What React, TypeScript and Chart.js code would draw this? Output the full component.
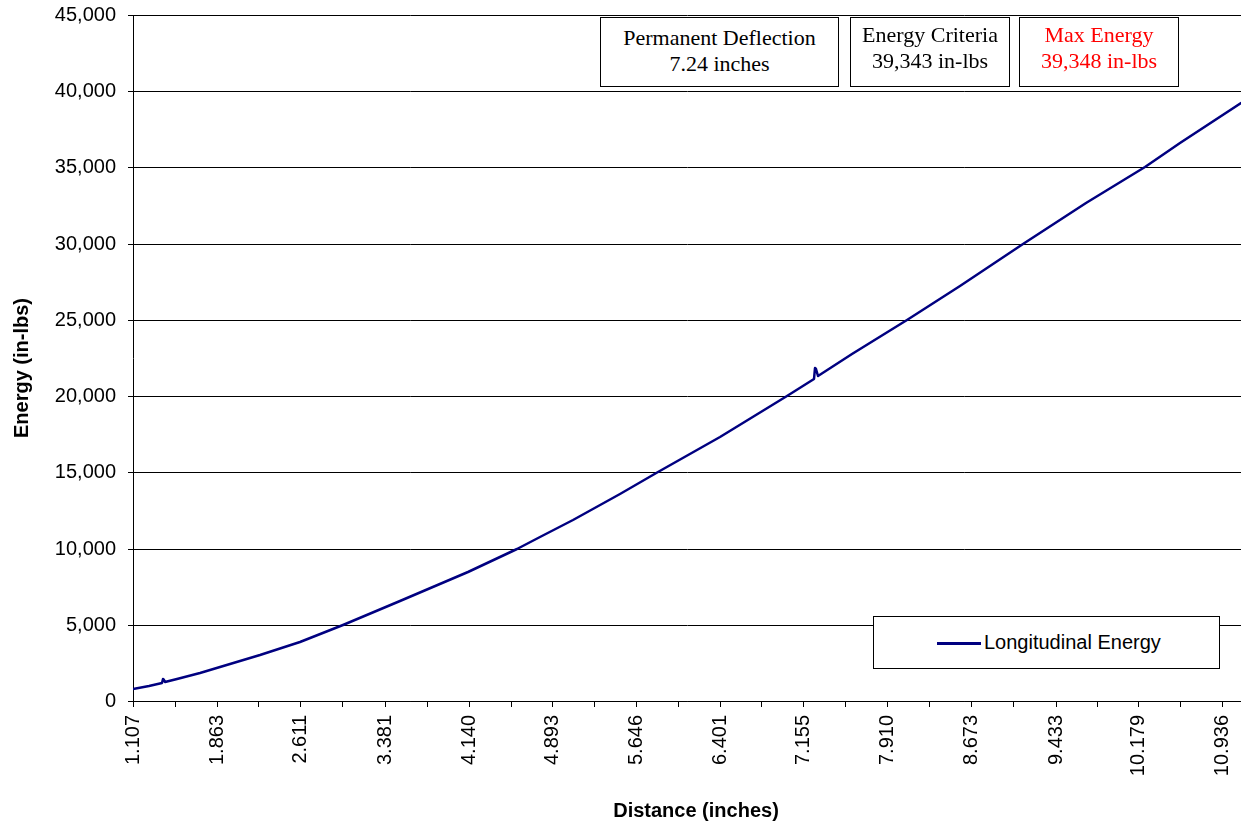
import React, { useEffect, useRef } from "react";
import { Chart, registerables } from "chart.js";

Chart.register(...registerables);

// ---- data ----
const distance = [
  1.107, 1.25, 1.372, 1.38, 1.39, 1.4, 1.5, 1.712, 1.892, 2.25, 2.614, 3.005, 3.517, 4.13, 4.57,
  4.78, 5.078, 5.5, 5.848, 6.405, 7.007, 7.252, 7.262, 7.274, 7.288, 7.6, 8.09, 8.571, 9.139, 9.71,
  10.241, 10.556, 11.107,
];
const energy = [
  770, 976, 1150, 1430, 1400, 1230, 1430, 1820, 2210, 3010, 3890, 5000, 6540, 8440, 10000, 10780,
  11874, 13560, 15000, 17350, 20000, 21150, 21860, 21800, 21300, 22740, 25000, 27220, 30000, 32680,
  35000, 36585, 39209,
];
const tickValues = [
  1.107, 1.863, 2.611, 3.381, 4.14, 4.893, 5.646, 6.401, 7.155, 7.91, 8.673, 9.433, 10.179, 10.936,
];
const tickLabels = [
  "1.107", "1.863", "2.611", "3.381", "4.140", "4.893", "5.646", "6.401", "7.155", "7.910", "8.673",
  "9.433", "10.179", "10.936",
];
const xMin = 1.107;
const xMax = 11.107;
const yMax = 45000;
const yStep = 5000;
const seriesName = "Longitudinal Energy";
const xTitle = "Distance (inches)";
const yTitle = "Energy (in-lbs)";
const infoBoxes = [
  { lines: ["Permanent Deflection", "7.24 inches"], color: "#000" },
  { lines: ["Energy Criteria", "39,343 in-lbs"], color: "#000" },
  { lines: ["Max Energy", "39,348 in-lbs"], color: "#ff0000" },
];

const SANS = '"Liberation Sans", Arial, sans-serif';
const SERIF = '"Liberation Serif", "Times New Roman", serif';

export default function App() {
  const canvasRef = useRef<HTMLCanvasElement | null>(null);

  useEffect(() => {
    const canvas = canvasRef.current;
    if (!canvas) return;

    const allTicks: number[] = [];
    tickValues.forEach((v, i) => {
      allTicks.push(v);
      if (i < tickValues.length - 1) allTicks.push((v + tickValues[i + 1]) / 2);
    });

    const titlePlugin = {
      id: "axisTitles",
      afterDraw(chart: any) {
        const ctx = chart.ctx;
        ctx.save();
        ctx.fillStyle = "#000";
        ctx.font = `bold 20px ${SANS}`;
        ctx.textAlign = "center";
        ctx.textBaseline = "middle";
        ctx.fillText(xTitle, 696, 811);
        ctx.translate(22, 368);
        ctx.rotate(-Math.PI / 2);
        ctx.fillText(yTitle, 0, 0);
        ctx.restore();
      },
    };

    const chart = new Chart(canvas, {
      type: "line",
      data: {
        datasets: [
          {
            label: seriesName,
            data: distance.map((d, i) => ({ x: d, y: energy[i] })),
            borderColor: "#000080",
            borderWidth: 2.5,
            borderJoinStyle: "round",
            borderCapStyle: "round",
            pointRadius: 0,
            tension: 0,
            fill: false,
          },
        ],
      },
      options: {
        animation: false,
        responsive: false,
        layout: { padding: { top: 15, left: 0, right: 0, bottom: 0 } },
        plugins: { legend: { display: false }, tooltip: { enabled: false } },
        scales: {
          x: {
            type: "linear",
            min: xMin,
            max: xMax,
            alignToPixels: true,
            afterBuildTicks: (scale: any) => {
              scale.ticks = allTicks.map((v) => ({ value: v }));
            },
            afterFit: (scale: any) => {
              scale.height = 124;
              scale.paddingLeft = 0;
              scale.paddingRight = 0;
              scale.paddingTop = 0;
              scale.paddingBottom = 0;
            },
            ticks: {
              autoSkip: false,
              minRotation: 90,
              maxRotation: 90,
              padding: 8,
              color: "#000",
              font: { family: SANS, size: 20 },
              callback: (value: any) => {
                const idx = tickValues.indexOf(value);
                return idx >= 0 ? tickLabels[idx] : "";
              },
            },
            grid: {
              drawOnChartArea: false,
              drawTicks: true,
              tickLength: 6,
              color: "#000",
              lineWidth: 1,
            },
            border: { display: true, color: "#000", width: 1 },
          },
          y: {
            min: 0,
            max: yMax,
            alignToPixels: true,
            afterFit: (scale: any) => {
              scale.width = 133;
              scale.paddingTop = 0;
              scale.paddingBottom = 0;
              scale.paddingLeft = 0;
              scale.paddingRight = 0;
            },
            ticks: {
              stepSize: yStep,
              padding: 12,
              color: "#000",
              font: { family: SANS, size: 20 },
              callback: (value: any) => Number(value).toLocaleString("en-US"),
            },
            grid: {
              color: "#000",
              lineWidth: 1,
              drawTicks: true,
              tickLength: 5,
            },
            border: { display: true, color: "#000", width: 1 },
          },
        },
      },
      plugins: [titlePlugin],
    } as any);

    return () => chart.destroy();
  }, []);

  const boxPos = [
    { left: 600, width: 239, padTop: 7 },
    { left: 850, width: 160, padTop: 4 },
    { left: 1019, width: 160, padTop: 4 },
  ];

  return (
    <div style={{ position: "absolute", left: 0, top: 0, width: 1241, height: 825, background: "#fff" }}>
      <canvas ref={canvasRef} width={1241} height={825} style={{ display: "block" }} />
      {infoBoxes.map((b, i) => (
        <div
          key={i}
          style={{
            position: "absolute",
            left: boxPos[i].left,
            top: 17,
            width: boxPos[i].width,
            height: 70,
            boxSizing: "border-box",
            border: "1.5px solid #000",
            background: "#fff",
            textAlign: "center",
            fontFamily: SERIF,
            fontSize: 22,
            lineHeight: "26px",
            color: b.color,
            paddingTop: boxPos[i].padTop,
            whiteSpace: "nowrap",
          }}
        >
          {b.lines.map((l, j) => (
            <div key={j}>{l}</div>
          ))}
        </div>
      ))}
      <div
        style={{
          position: "absolute",
          left: 873,
          top: 616,
          width: 347,
          height: 53,
          boxSizing: "border-box",
          border: "1px solid #000",
          background: "#fff",
        }}
      >
        <div
          style={{
            position: "absolute",
            left: 63,
            top: 25,
            width: 44,
            height: 2.5,
            background: "#000080",
          }}
        />
        <div
          style={{
            position: "absolute",
            left: 110,
            top: 13,
            fontFamily: SANS,
            fontSize: 20,
            lineHeight: "24px",
            color: "#000",
            whiteSpace: "nowrap",
          }}
        >
          {seriesName}
        </div>
      </div>
    </div>
  );
}
